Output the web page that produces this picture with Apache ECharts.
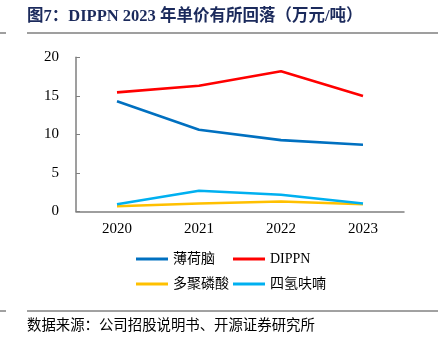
<!DOCTYPE html>
<html><head><meta charset="utf-8">
<script src="https://cdn.jsdelivr.net/npm/echarts@6/dist/echarts.min.js"></script>
<style>html,body{margin:0;padding:0;background:#fff}#c{width:440px;height:347px}</style>
</head><body><div id="c"></div>
<script>
const categories = ['2020','2021','2022','2023'];
const menthol = [14.3, 10.6, 9.26, 8.66];
const dippn = [15.45, 16.3, 18.2, 14.97];
const polyPhos = [0.69, 1.04, 1.3, 0.95];
const thf = [0.95, 2.69, 2.17, 1.04];
const yTicks = [0, 5, 10, 15, 20];

const chart = echarts.init(document.getElementById('c'));
const serif = 'Liberation Serif, Times New Roman, serif';
const cjk = 'Noto Sans CJK SC';
function lg(name, left, top){
  return {data:[name], left:left, top:top, padding:0, itemWidth:32, itemHeight:3, itemGap:0,
    icon:'rect', textStyle:{fontFamily: serif + ', ' + cjk, fontSize:14, color:'#000'}};
}
function s(name, data, color){
  return {name, type:'line', data, symbol:'none', lineStyle:{width:2.6, color}, itemStyle:{color}};
}
chart.setOption({
  animation:false,
  title:{text:'图7：DIPPN 2023 年单价有所回落（万元/吨）', left:27, top:8, padding:0,
    textStyle:{fontFamily: 'Liberation Serif, ' + cjk, fontWeight:'bold', fontSize:16.5, color:'#1b2a5c'}},
  graphic:[
    {type:'line', shape:{x1:27,y1:33,x2:438,y2:33}, style:{stroke:'#7f7f7f', lineWidth:1.5}},
    {type:'line', shape:{x1:0,y1:33,x2:6,y2:33}, style:{stroke:'#7f7f7f', lineWidth:1.5}},
    {type:'line', shape:{x1:27,y1:311,x2:438,y2:311}, style:{stroke:'#444', lineWidth:1}},
    {type:'line', shape:{x1:0,y1:311,x2:6,y2:311}, style:{stroke:'#444', lineWidth:1}},
    {type:'text', left:27, top:317, style:{text:'数据来源：公司招股说明书、开源证券研究所', font:'14.4px "Noto Sans CJK SC"', fill:'#000'}}
  ],
  legend:[lg('薄荷脑',136,252), lg('DIPPN',233,252), lg('多聚磷酸',136,277), lg('四氢呋喃',233,277)],
  grid:{left:76, right:36, top:57.3, bottom:135.5, containLabel:false},
  xAxis:{type:'category', data:categories, boundaryGap:true,
    axisLine:{lineStyle:{color:'#7f7f7f', width:1.5}},
    axisTick:{inside:true, length:4, lineStyle:{color:'#7f7f7f'}},
    axisLabel:{fontFamily:serif, fontSize:15, color:'#000', margin:10}},
  yAxis:{type:'value', min:0, max:20, interval:5,
    axisLine:{show:true, lineStyle:{color:'#7f7f7f', width:1.5}},
    axisTick:{show:true, inside:true, length:4, lineStyle:{color:'#7f7f7f'}},
    splitLine:{show:false},
    axisLabel:{fontFamily:serif, fontSize:15, color:'#000', margin:17,
      formatter:v=> yTicks.includes(v) ? String(v) : ''}},
  series:[s('薄荷脑',menthol,'#0070c0'), s('DIPPN',dippn,'#ff0000'), s('多聚磷酸',polyPhos,'#ffc000'), s('四氢呋喃',thf,'#00b0f0')]
});
</script></body></html>
